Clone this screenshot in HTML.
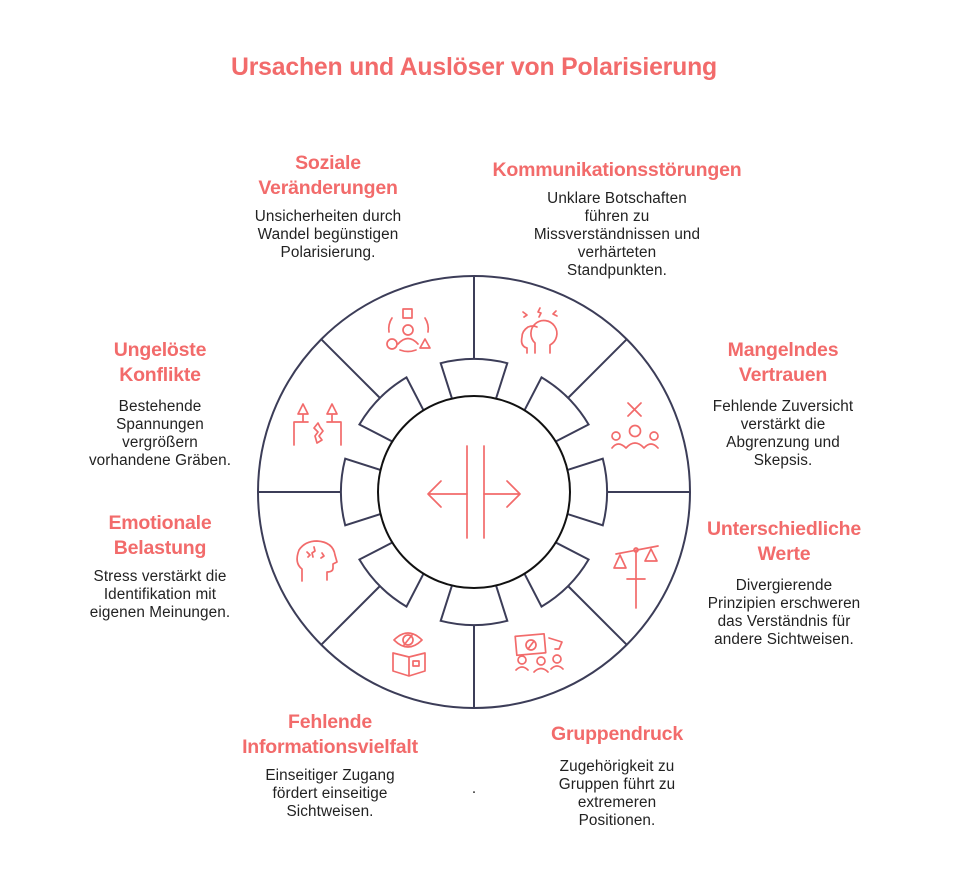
<!DOCTYPE html>
<html><head><meta charset="utf-8">
<style>
body{margin:0;background:#fff;width:956px;height:876px;position:relative;overflow:hidden;font-family:"Liberation Sans",sans-serif}
.t{position:absolute;text-align:center;transform:translateX(-50%);white-space:nowrap}
.h{color:#f26b6b;font-weight:bold;font-size:19.5px;line-height:24.5px;letter-spacing:-0.2px}
.b{color:#222;font-size:15.3px;line-height:18px;letter-spacing:0.1px}
svg{position:absolute;left:0;top:0}
</style></head><body>
<div class="t h" style="left:474px;top:53px;font-size:24.8px;line-height:30px">Ursachen und Auslöser von Polarisierung</div>

<div class="t h" style="left:328px;top:151px">Soziale<br>Veränderungen</div>
<div class="t b" style="left:328px;top:208px">Unsicherheiten durch<br>Wandel begünstigen<br>Polarisierung.</div>

<div class="t h" style="left:617px;top:158px">Kommunikationsstörungen</div>
<div class="t b" style="left:617px;top:190px">Unklare Botschaften<br>führen zu<br>Missverständnissen und<br>verhärteten<br>Standpunkten.</div>

<div class="t h" style="left:783px;top:338px">Mangelndes<br>Vertrauen</div>
<div class="t b" style="left:783px;top:398px">Fehlende Zuversicht<br>verstärkt die<br>Abgrenzung und<br>Skepsis.</div>

<div class="t h" style="left:784px;top:517px">Unterschiedliche<br>Werte</div>
<div class="t b" style="left:784px;top:577px">Divergierende<br>Prinzipien erschweren<br>das Verständnis für<br>andere Sichtweisen.</div>

<div class="t h" style="left:617px;top:722px">Gruppendruck</div>
<div class="t b" style="left:617px;top:758px">Zugehörigkeit zu<br>Gruppen führt zu<br>extremeren<br>Positionen.</div>

<div class="t h" style="left:330px;top:710px">Fehlende<br>Informationsvielfalt</div>
<div class="t b" style="left:330px;top:767px">Einseitiger Zugang<br>fördert einseitige<br>Sichtweisen.</div>

<div class="t h" style="left:160px;top:511px">Emotionale<br>Belastung</div>
<div class="t b" style="left:160px;top:568px">Stress verstärkt die<br>Identifikation mit<br>eigenen Meinungen.</div>

<div class="t h" style="left:160px;top:338px">Ungelöste<br>Konflikte</div>
<div class="t b" style="left:160px;top:398px">Bestehende<br>Spannungen<br>vergrößern<br>vorhandene Gräben.</div>

<div class="t b" style="left:474px;top:780px">.</div>

<svg id="s" width="956" height="876" viewBox="0 0 956 876">
<circle cx="474" cy="492" r="216" fill="none" stroke="#3c3d58" stroke-width="2"/>
<g id="g" fill="#fff" stroke="#3c3d58" stroke-width="2"></g>
<circle cx="474" cy="492" r="96" fill="#fff" stroke="#111" stroke-width="2"/>
<g fill="none" stroke="#f26b6b" stroke-width="1.7" stroke-linecap="round" stroke-linejoin="round">
<line x1="467" y1="446" x2="467" y2="538"/><line x1="484" y1="446" x2="484" y2="538"/>
<path d="M467 494H428M441 481L428 494L441 507"/><path d="M484 494H520M507 481L520 494L507 507"/>
<path d="M403 309h9v9h-9z"/><circle cx="408" cy="330" r="5"/><path d="M398 344q10-11 20 0"/>
<path d="M392 318a20 20 0 0 0-3 14M425 318a20 20 0 0 1 3 14M400 350q8 3 16 0"/>
<circle cx="392" cy="344" r="5"/><path d="M420 348l5-9 5 9z"/>
<path d="M527 353v-5q-7-2-5-11 0-6 6-10 5-2 9 0M535 353v-10a13 13 0 1 1 15 2v8M523 312l4 3-3 2M540 308l-2 4 3 1-2 4M556 311l-3 3 4 2"/>
<path d="M628 403l13 13M641 403l-13 13"/><circle cx="635" cy="431" r="5.5"/><circle cx="616" cy="436" r="4"/><circle cx="654" cy="436" r="4"/>
<path d="M612 448q6-8 14 0q9-10 18 0q7-8 14 0"/>
<path d="M636 579v29M627 579h18M616 554l42-8M636 550v29"/><circle cx="636" cy="550" r="2"/>
<path d="M620 555l-6 13h12zM651 549l-6 12h12z"/>
<rect x="516" y="635" width="29" height="19" transform="rotate(-5 531 645)"/><circle cx="531" cy="645" r="5"/><path d="M528 649l6-8"/>
<path d="M549 638l13 4-3 7h-4"/><circle cx="522" cy="660" r="4"/><circle cx="541" cy="661" r="4"/><circle cx="557" cy="659" r="4"/>
<path d="M516 670q6-6 12 0M534 672q7-7 14 0M551 669q6-6 12 0"/>
<path d="M394 640q14-14 28 0q-14 14-28 0z"/><circle cx="408" cy="640" r="5"/><path d="M404 645l8-10"/>
<path d="M393 653v18l16 5 16-5v-18l-16 4z M409 657v19"/><rect x="413" y="661" width="6" height="5"/>
<path d="M302 581v-12q-8-6-3-19 6-9 18-9 16 1 18 14l2 7-4 2v4q0 4-6 4v8M307 552l3 3-2 2M314 547l1 4-3 2 1 4M322 553l2 3-3 2"/>
<path d="M298 414l5-10 5 10zM303 414v8M327 414l5-10 5 10zM332 414v8M294 445v-23h14M341 445v-23h-14M318 423l-4 5 4 4-3 4 2 7 5-3-3-4 4-5-3-4z"/>
</g>
</svg>
<script>
var g=document.getElementById('g'),cx=474,cy=492,ns='http://www.w3.org/2000/svg';
function p(r,a){a=a*Math.PI/180;return [(cx+r*Math.cos(a)).toFixed(1),(cy+r*Math.sin(a)).toFixed(1)];}
for(var i=0;i<8;i++){var a=i*45;
var o=p(216,a),t=p(133,a);
var l=document.createElementNS(ns,'line');l.setAttribute('x1',t[0]);l.setAttribute('y1',t[1]);l.setAttribute('x2',o[0]);l.setAttribute('y2',o[1]);g.appendChild(l);
var A=p(90,a-13),B=p(133,a-14.5),C=p(133,a+14.5),D=p(90,a+13);
var pa=document.createElementNS(ns,'path');
pa.setAttribute('d','M'+A+'L'+B+'A133 133 0 0 1 '+C+'L'+D+'Z');g.appendChild(pa);}
</script>
</body></html>
